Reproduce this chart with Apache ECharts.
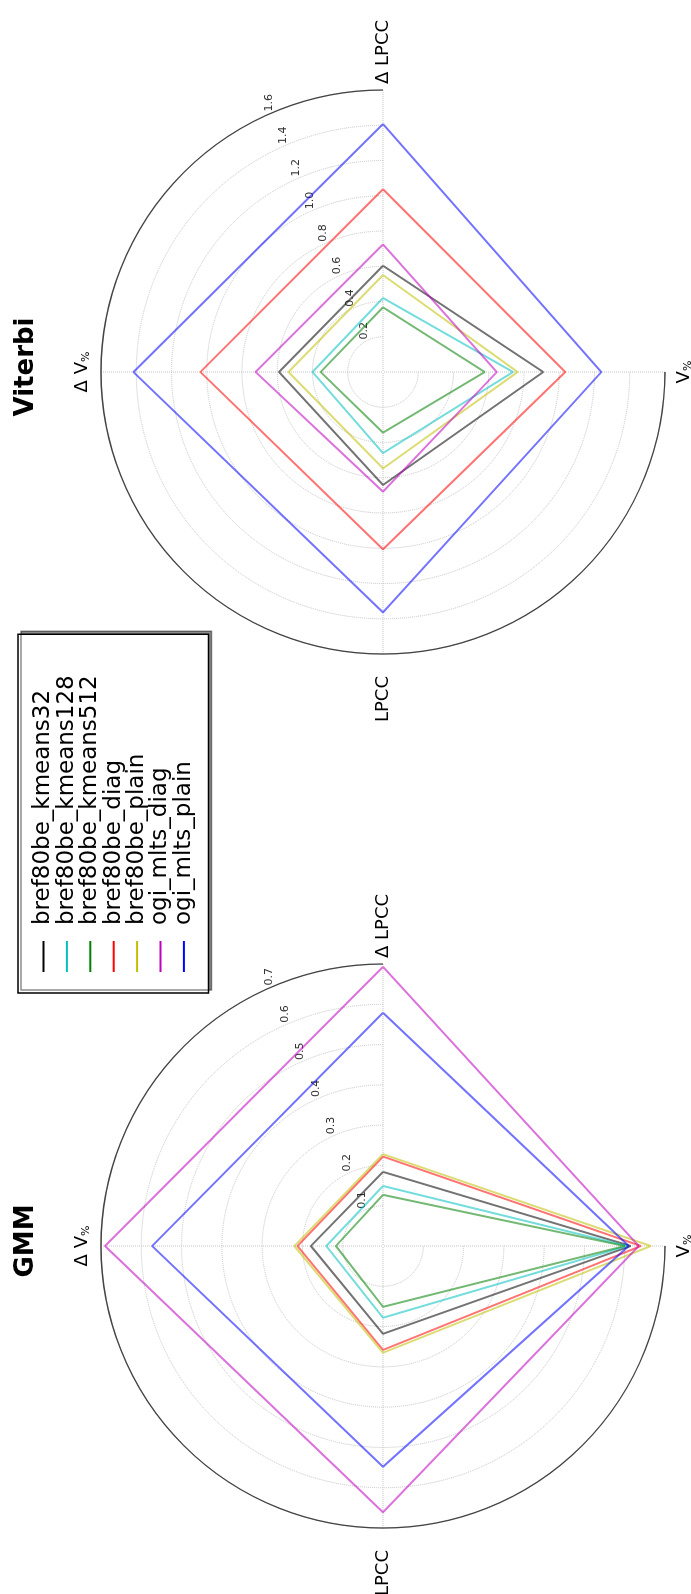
<!DOCTYPE html>
<html><head><meta charset="utf-8">
<script src="https://cdn.jsdelivr.net/npm/echarts@6/dist/echarts.min.js"></script>
<style>
html,body{margin:0;padding:0;background:#fff;width:691px;height:1594px;overflow:hidden;}
#rot{position:absolute;left:0;top:0;width:1594px;height:691px;transform-origin:0 0;transform:translate(0,1594px) rotate(-90deg);}
#chart{width:1594px;height:691px;}
</style></head><body>
<div id="rot"><div id="chart"></div></div>
<script>
// ---- data ----
const categories = ['Δ LPCC', 'Δ V%', 'LPCC', 'V%'];
const seriesNames = ['bref80be_kmeans32', 'bref80be_kmeans128', 'bref80be_kmeans512', 'bref80be_diag', 'bref80be_plain', 'ogi_mlts_diag', 'ogi_mlts_plain'];
const panelTitles = ['GMM', 'Viterbi'];
// values per series, in category order [Δ LPCC, Δ V%, LPCC, V%]
const gmmValues = [
  [0.184, 0.179, 0.218, 0.615],
  [0.149, 0.141, 0.178, 0.607],
  [0.127, 0.117, 0.151, 0.600],
  [0.222, 0.212, 0.258, 0.640],
  [0.228, 0.220, 0.265, 0.665],
  [0.693, 0.690, 0.661, 0.635],
  [0.579, 0.573, 0.548, 0.610]
];
const viterbiValues = [
  [0.603, 0.590, 0.641, 0.909],
  [0.420, 0.400, 0.460, 0.738],
  [0.367, 0.354, 0.344, 0.577],
  [1.037, 1.036, 1.006, 1.034],
  [0.550, 0.536, 0.547, 0.764],
  [0.724, 0.723, 0.679, 0.646],
  [1.407, 1.416, 1.364, 1.239]
];
const gmmTicks = [0.1, 0.2, 0.3, 0.4, 0.5, 0.6, 0.7];
const viterbiTicks = [0.2, 0.4, 0.6, 0.8, 1.0, 1.2, 1.4, 1.6];

// ---- styling ----
const FONT = 'DejaVu Sans';
const seriesColors = ['#000000', '#00bfbf', '#008000', '#ff0000', '#bfbf00', '#bf00bf', '#0000ff'];
const panelCenters = [[348, 383], [1222, 383]];
const R = 282;
const labelStyles = {
  'Δ LPCC': {padding: [10, 0, 10, 9], backgroundColor: '#fff'},
  'Δ V%': {padding: [0, 0, 12, 0]},
  'LPCC': {padding: [0, 25, 0, 0]},
  'V%': {padding: [13, 0, 0, 0]}
};

const panels = [
  {values: gmmValues, ticks: gmmTicks},
  {values: viterbiValues, ticks: viterbiTicks}
];

const polar = [], angleAxis = [], radiusAxis = [], series = [], title = [];
panels.forEach((p, k) => {
  const max = p.ticks[p.ticks.length - 1];
  const interval = p.ticks[1] - p.ticks[0];

  // 1) grid polar: category spokes, circles, category labels
  const gridPolar = polar.length;
  polar.push({center: panelCenters[k], radius: R});
  angleAxis.push({
    polarIndex: gridPolar, type: 'category', startAngle: 0, clockwise: false, boundaryGap: false,
    data: categories.map(c => ({value: c, textStyle: labelStyles[c]})),
    axisLine: {show: true, lineStyle: {color: '#444', width: 1.3}},
    axisTick: {show: false},
    axisLabel: {
      show: true, margin: -3, fontSize: 18, color: '#000', fontFamily: FONT,
      formatter: v => v.replace('%', '{s|%}'),
      rich: {s: {fontSize: 11, fontFamily: FONT, color: '#000', padding: [8, 0, 0, 0]}}
    },
    splitLine: {show: true, lineStyle: {type: 'dotted', color: '#c4c4c4', width: 1}}
  });
  radiusAxis.push({
    polarIndex: gridPolar, type: 'value', min: 0, max: max, interval: interval,
    axisLine: {show: false}, axisTick: {show: false}, axisLabel: {show: false},
    splitLine: {show: true, lineStyle: {type: 'dotted', color: '#c4c4c4', width: 1}}
  });

  // 2) tick-label polar: radial tick labels on a ray at 22.5 degrees
  const labelPolar = polar.length;
  polar.push({center: panelCenters[k], radius: R});
  angleAxis.push({polarIndex: labelPolar, type: 'value', min: 0, max: 360, startAngle: 22.5, clockwise: false, show: false});
  radiusAxis.push({
    polarIndex: labelPolar, type: 'value', min: 0, max: max, interval: interval,
    axisLine: {show: false}, axisTick: {show: false}, splitLine: {show: false},
    axisLabel: {show: true, showMinLabel: false, margin: 0, rotate: 0.001, align: 'left', verticalAlign: 'bottom',
      fontSize: 11, color: '#333', fontFamily: FONT, formatter: v => v.toFixed(1)}
  });

  // 3) data polar: full 0..360 angle scale so polygons close
  const dataPolar = polar.length;
  polar.push({center: panelCenters[k], radius: R});
  angleAxis.push({polarIndex: dataPolar, type: 'value', min: 0, max: 360, startAngle: 0, clockwise: false, show: false});
  radiusAxis.push({polarIndex: dataPolar, type: 'value', min: 0, max: max, show: false});

  const step = 360 / categories.length;
  p.values.forEach((vals, i) => {
    const pts = categories.map((c, j) => [vals[j], j * step]);
    pts.push([vals[0], categories.length * step]);
    series.push({
      type: 'line', coordinateSystem: 'polar', polarIndex: dataPolar, name: seriesNames[i],
      data: pts, symbol: 'none', color: seriesColors[i], silent: true, animation: false, clip: false,
      lineStyle: {width: 2, opacity: 0.55}, z: 3
    });
  });
  title.push({text: panelTitles[k], left: panelCenters[k][0], top: 8, textAlign: 'center',
    textStyle: {fontSize: 26, fontWeight: 'bold', fontFamily: FONT, color: '#000'}});
});

const chart = echarts.init(document.getElementById('chart'), null, {renderer: 'canvas'});
chart.setOption({
  backgroundColor: '#fff',
  animation: false,
  title: title,
  polar: polar,
  angleAxis: angleAxis,
  radiusAxis: radiusAxis,
  legend: {
    orient: 'vertical', left: 601, top: 18, padding: [14, 41, 13, 21],
    itemWidth: 31, itemHeight: 2, itemGap: 0.4, icon: 'rect',
    borderColor: '#000', borderWidth: 1.5, backgroundColor: '#fff',
    shadowColor: 'rgba(0,0,0,0.45)', shadowOffsetX: 3, shadowOffsetY: 3, shadowBlur: 0.01,
    textStyle: {fontSize: 23, lineHeight: 23, fontFamily: FONT, color: '#000', padding: [0, 0, 0, 11]},
    itemStyle: {opacity: 1},
    data: seriesNames
  },
  series: series
});
</script>
</body></html>
